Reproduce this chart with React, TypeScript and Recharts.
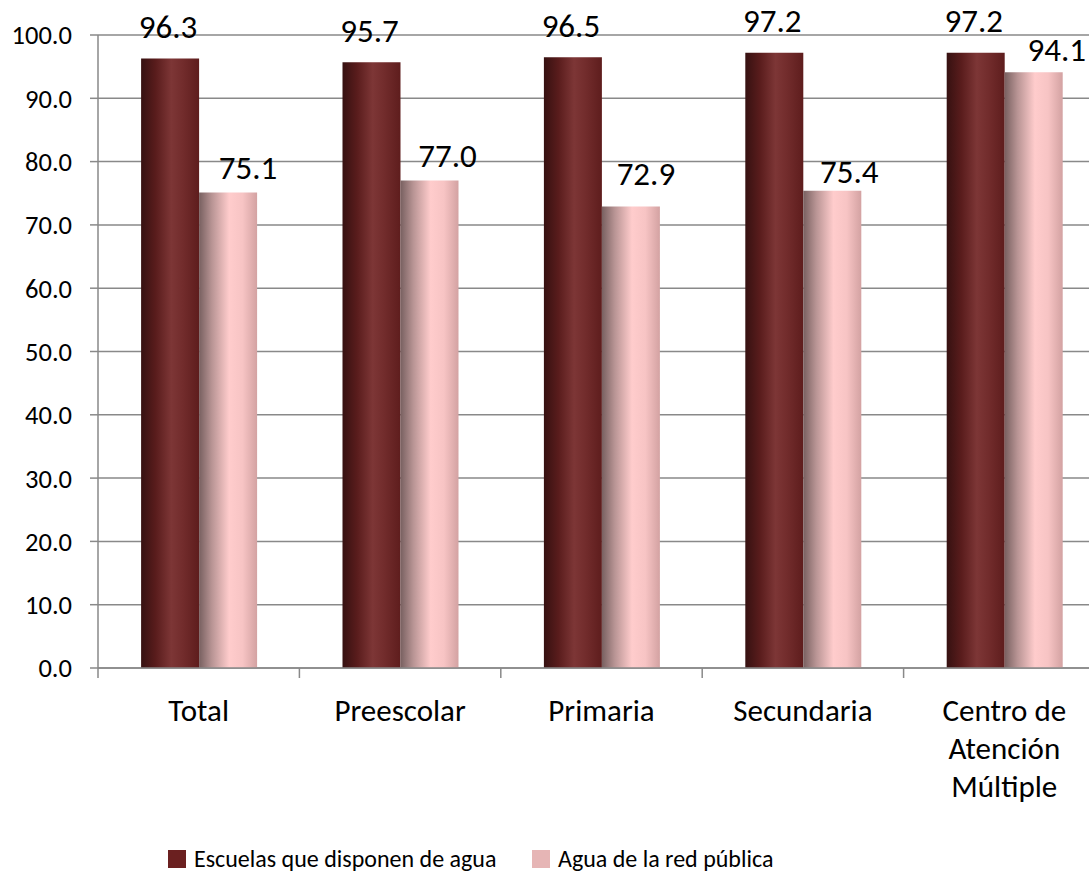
import { Bar, BarChart, CartesianGrid, LabelList, Legend, XAxis, YAxis } from 'recharts';

const categories = ['Total', 'Preescolar', 'Primaria', 'Secundaria', 'Centro de Atención Múltiple'];
const escuelasConAgua = [96.3, 95.7, 96.5, 97.2, 97.2];
const aguaRedPublica = [75.1, 77.0, 72.9, 75.4, 94.1];
const yTicks = [0, 10, 20, 30, 40, 50, 60, 70, 80, 90, 100];
const seriesNames = ['Escuelas que disponen de agua', 'Agua de la red pública'];

// the pink labels were nudged by hand in the original
const pinkLabelDx = [20, 18, 15, 17, 23];
const pinkLabelGap = [14, 14, 22, 8, 11];

const data = categories.map((name, i) => ({
  name,
  escuelas: escuelasConAgua[i],
  red: aguaRedPublica[i],
}));

const FONT = 'Carlito, Calibri, Lato, sans-serif';
const AXIS = '#898989';
const CHART_W = 1110;
const CHART_H = 874;
const MARGIN = { top: 35, right: 5, left: 0, bottom: 0 };
const Y_AXIS_W = 98;
const BAND = (CHART_W - MARGIN.left - MARGIN.right - Y_AXIS_W) / categories.length;

function wrapWords(text: string, max: number) {
  const lines: string[] = [];
  let cur = '';
  text.split(' ').forEach(w => {
    if (!cur) cur = w;
    else if ((cur + ' ' + w).length <= max) cur += ' ' + w;
    else {
      lines.push(cur);
      cur = w;
    }
  });
  if (cur) lines.push(cur);
  return lines;
}

function CategoryTick({ x, y, payload }: any) {
  const lines = wrapWords(payload.value, 10);
  const sepX = x - BAND / 2;
  return (
    <g>
      <line x1={sepX} y1={y} x2={sepX} y2={y + 10} stroke={AXIS} strokeWidth={1.5} />
      <text x={x} y={y + 53} textAnchor="middle" fontSize={31} fontFamily={FONT} fill="#000">
        {lines.map((l, i) => (
          <tspan key={i} x={x} dy={i === 0 ? 0 : 38}>
            {l}
          </tspan>
        ))}
      </text>
    </g>
  );
}

function DarkLabel({ x, y, width, value }: any) {
  return (
    <text x={x + width / 2 - 2} y={y - 20.5} textAnchor="middle" fontSize={33} fontFamily={FONT} fill="#000">
      {Number(value).toFixed(1)}
    </text>
  );
}

function PinkLabel({ x, y, width, value, index }: any) {
  return (
    <text
      x={x + width / 2 + pinkLabelDx[index]}
      y={y - pinkLabelGap[index]}
      textAnchor="middle"
      fontSize={33}
      fontFamily={FONT}
      fill="#000"
    >
      {Number(value).toFixed(1)}
    </text>
  );
}

function LegendContent() {
  const colors = ['#6b2020', '#e6b5b5'];
  return (
    <div
      style={{
        display: 'flex',
        alignItems: 'center',
        fontFamily: FONT,
        fontSize: 24,
        lineHeight: '24px',
        color: '#000',
      }}
    >
      {seriesNames.map((n, i) => (
        <div
          key={n}
          style={{ display: 'flex', alignItems: 'center', flexShrink: 0, width: i === 0 ? 364 : 'auto' }}
        >
          <span
            style={{
              display: 'inline-block',
              flexShrink: 0,
              width: 18,
              height: 18,
              background: colors[i],
              marginRight: 8,
            }}
          />
          <span style={{ whiteSpace: 'nowrap' }}>{n}</span>
        </div>
      ))}
    </div>
  );
}

export default function App() {
  return (
    <div style={{ position: 'absolute', left: 0, top: 0, width: 1089, height: 874, overflow: 'hidden', background: '#fff' }}>
      <BarChart
        width={CHART_W}
        height={CHART_H}
        data={data}
        margin={MARGIN}
        barCategoryGap="21.4%"
        barGap={0}
      >
        <defs>
          <linearGradient id="gDark" x1="0" y1="0" x2="1" y2="0">
            <stop offset="0%" stopColor="#361111" />
            <stop offset="25%" stopColor="#591c1c" />
            <stop offset="52%" stopColor="#7d3636" />
            <stop offset="72%" stopColor="#722c2c" />
            <stop offset="100%" stopColor="#5e1d1d" />
          </linearGradient>
          <linearGradient id="gPink" x1="0" y1="0" x2="1" y2="0">
            <stop offset="0%" stopColor="#786060" />
            <stop offset="22%" stopColor="#b89494" />
            <stop offset="52%" stopColor="#ffcccc" />
            <stop offset="75%" stopColor="#f7c4c4" />
            <stop offset="100%" stopColor="#d3a2a2" />
          </linearGradient>
        </defs>
        <CartesianGrid vertical={false} stroke={AXIS} strokeWidth={1.5} />
        <XAxis
          dataKey="name"
          height={CHART_H - MARGIN.top - 633}
          interval={0}
          tickLine={false}
          tickSize={0}
          tickMargin={0}
          axisLine={{ stroke: AXIS, strokeWidth: 1.5 }}
          tick={<CategoryTick />}
        />
        <YAxis
          width={Y_AXIS_W}
          domain={[0, 100]}
          ticks={yTicks}
          interval={0}
          tickSize={8}
          tickMargin={18}
          tickFormatter={(v: number) => v.toFixed(1)}
          axisLine={{ stroke: AXIS, strokeWidth: 1.5 }}
          tickLine={{ stroke: AXIS, strokeWidth: 1.5 }}
          tick={{ fill: '#000', fontSize: 26.5, fontFamily: FONT }}
        />
        <Legend
          layout="horizontal"
          verticalAlign="middle"
          align="center"
          content={<LegendContent />}
          wrapperStyle={{ top: 847, left: 168, width: 'auto', height: 'auto' }}
        />
        <Bar dataKey="escuelas" name={seriesNames[0]} fill="url(#gDark)" isAnimationActive={false}>
          <LabelList dataKey="escuelas" content={<DarkLabel />} />
        </Bar>
        <Bar dataKey="red" name={seriesNames[1]} fill="url(#gPink)" isAnimationActive={false}>
          <LabelList dataKey="red" content={<PinkLabel />} />
        </Bar>
      </BarChart>
    </div>
  );
}
